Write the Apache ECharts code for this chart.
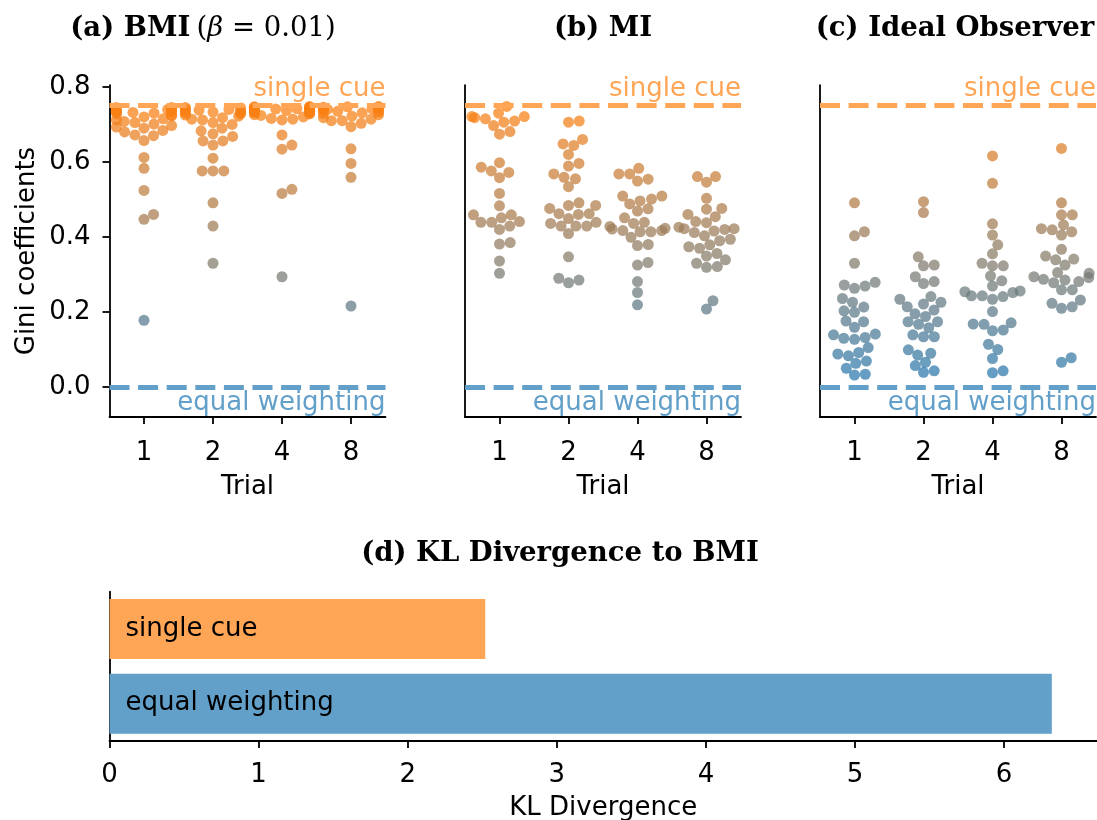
<!DOCTYPE html>
<html>
<head>
<meta charset="utf-8">
<script src="https://cdn.jsdelivr.net/npm/echarts@6/dist/echarts.min.js"></script>
<style>
  html, body { margin: 0; padding: 0; background: #fff; }
  #chart { width: 1097px; height: 820px; }
</style>
</head>
<body>
<div id="chart"></div>
<script>
// ---- data ----------------------------------------------------------------
const trials = ['1', '2', '4', '8'];
const giniTicks = [0.0, 0.2, 0.4, 0.6, 0.8];
const klTicks = [0, 1, 2, 3, 4, 5, 6];

// Gini coefficients of cue weights per trial (one inner array per trial)
const bmiGini = [
  [0.745, 0.745, 0.743, 0.740, 0.738, 0.737, 0.735, 0.734, 0.733, 0.732, 0.730, 0.728, 0.725, 0.723, 0.720, 0.715, 0.712, 0.708, 0.705, 0.701, 0.697, 0.693, 0.690, 0.684, 0.680, 0.672, 0.670, 0.657, 0.612, 0.583, 0.524, 0.460, 0.447, 0.178],
  [0.745, 0.744, 0.742, 0.740, 0.738, 0.736, 0.735, 0.733, 0.731, 0.730, 0.728, 0.725, 0.722, 0.718, 0.714, 0.712, 0.705, 0.700, 0.690, 0.683, 0.675, 0.668, 0.656, 0.656, 0.645, 0.610, 0.576, 0.576, 0.576, 0.491, 0.429, 0.330],
  [0.748, 0.747, 0.746, 0.745, 0.745, 0.744, 0.743, 0.742, 0.741, 0.740, 0.739, 0.738, 0.737, 0.736, 0.735, 0.734, 0.733, 0.732, 0.730, 0.728, 0.726, 0.724, 0.720, 0.716, 0.714, 0.712, 0.672, 0.645, 0.634, 0.527, 0.516, 0.294],
  [0.748, 0.747, 0.746, 0.745, 0.744, 0.743, 0.742, 0.741, 0.740, 0.738, 0.737, 0.735, 0.733, 0.731, 0.729, 0.726, 0.722, 0.718, 0.714, 0.710, 0.710, 0.703, 0.694, 0.635, 0.596, 0.559, 0.216]
];
const miGini = [
  [0.748, 0.730, 0.721, 0.721, 0.718, 0.715, 0.709, 0.706, 0.697, 0.681, 0.674, 0.598, 0.586, 0.576, 0.572, 0.558, 0.516, 0.483, 0.459, 0.459, 0.451, 0.441, 0.439, 0.439, 0.429, 0.420, 0.385, 0.381, 0.336, 0.303],
  [0.709, 0.706, 0.660, 0.648, 0.644, 0.620, 0.596, 0.589, 0.568, 0.559, 0.555, 0.534, 0.491, 0.484, 0.484, 0.476, 0.462, 0.462, 0.460, 0.449, 0.439, 0.436, 0.429, 0.429, 0.429, 0.409, 0.347, 0.290, 0.285, 0.278],
  [0.583, 0.568, 0.568, 0.554, 0.549, 0.509, 0.509, 0.501, 0.496, 0.488, 0.475, 0.469, 0.451, 0.439, 0.436, 0.428, 0.423, 0.421, 0.417, 0.417, 0.414, 0.414, 0.399, 0.380, 0.377, 0.332, 0.325, 0.281, 0.252, 0.219],
  [0.561, 0.561, 0.546, 0.503, 0.476, 0.474, 0.460, 0.454, 0.441, 0.438, 0.426, 0.422, 0.422, 0.420, 0.416, 0.412, 0.403, 0.394, 0.390, 0.379, 0.374, 0.370, 0.356, 0.349, 0.339, 0.330, 0.321, 0.319, 0.230, 0.208]
];
const idealGini = [
  [0.491, 0.414, 0.403, 0.330, 0.279, 0.272, 0.269, 0.263, 0.236, 0.226, 0.213, 0.203, 0.199, 0.176, 0.174, 0.159, 0.141, 0.139, 0.132, 0.130, 0.127, 0.105, 0.092, 0.088, 0.083, 0.069, 0.063, 0.050, 0.034, 0.032],
  [0.494, 0.465, 0.347, 0.325, 0.323, 0.294, 0.281, 0.276, 0.241, 0.234, 0.226, 0.221, 0.214, 0.205, 0.195, 0.188, 0.174, 0.174, 0.167, 0.158, 0.139, 0.134, 0.134, 0.099, 0.090, 0.085, 0.066, 0.057, 0.043, 0.039],
  [0.616, 0.543, 0.435, 0.405, 0.379, 0.355, 0.330, 0.323, 0.323, 0.296, 0.283, 0.269, 0.256, 0.254, 0.252, 0.243, 0.243, 0.241, 0.234, 0.201, 0.171, 0.168, 0.167, 0.152, 0.150, 0.114, 0.100, 0.076, 0.043, 0.038],
  [0.636, 0.491, 0.459, 0.459, 0.432, 0.422, 0.419, 0.414, 0.405, 0.367, 0.349, 0.341, 0.339, 0.325, 0.305, 0.303, 0.294, 0.292, 0.287, 0.285, 0.281, 0.278, 0.259, 0.259, 0.232, 0.223, 0.214, 0.210, 0.078, 0.066]
];

// KL divergence of each heuristic to BMI
const klCategories = ['single cue', 'equal weighting'];
const klValues = [2.52, 6.32];

// reference levels of the Gini coefficient
const singleCueGini = 0.75;
const equalWeightGini = 0.0;

// ---- style & layout -------------------------------------------------------
const TAB_BLUE = [31, 119, 180];
const TAB_ORANGE = [255, 127, 14];
const ORANGE_SOFT = '#ffa556';
const BLUE_SOFT = '#62a0ca';
const FONT = 'DejaVu Sans';
const FS = 26;
const TITLE_FS = 27.5;

const Y_MIN = -0.08, Y_MAX = 0.805;
const X_MIN = -0.5, X_MAX = 3.5;
const PANEL_W = 276, PANEL_H = 331.9, PANEL_TOP = 85.1;
const panelLefts = [109.5, 465, 820];
const MARKER_SIZE = 11;
const SWARM_GAP = 10.3;       // centre-to-centre spacing used by the swarm
const SWARM_HALF_WIDTH = 0.4; // gutter, in category units

function pointColor(v) {
  const t = Math.max(0, Math.min(1, v / singleCueGini));
  const c = TAB_BLUE.map((b, i) => Math.round(b + (TAB_ORANGE[i] - b) * t));
  return 'rgb(' + c.join(',') + ')';
}

// beeswarm layout: sort by value, put each point at the free position
// closest to the category centre, then clamp overflow to the gutters
function swarmOffsets(values, pxPerY, pxPerX) {
  const order = values.map((v, i) => i).sort((a, b) => values[a] - values[b]);
  const d = SWARM_GAP;
  const placed = [];
  const out = new Array(values.length);
  for (const idx of order) {
    const y = values[idx] * pxPerY;
    const neighbors = placed.filter(p => Math.abs(p.y - y) < d);
    const cands = [0];
    for (const n of neighbors) {
      const dy = y - n.y;
      const dx = Math.sqrt(Math.max(d * d - dy * dy, 0)) * 1.05;
      cands.push(n.x + dx, n.x - dx);
    }
    cands.sort((a, b) => Math.abs(a) - Math.abs(b));
    let chosen = cands[cands.length - 1];
    for (const c of cands) {
      if (neighbors.every(n => Math.hypot(n.x - c, n.y - y) >= d - 1e-6)) { chosen = c; break; }
    }
    placed.push({ x: chosen, y: y });
    const off = chosen / pxPerX;
    out[idx] = Math.max(-SWARM_HALF_WIDTH, Math.min(SWARM_HALF_WIDTH, off));
  }
  return out;
}

const pxPerY = PANEL_H / (Y_MAX - Y_MIN);
const pxPerX = PANEL_W / (X_MAX - X_MIN);

function swarmData(groups) {
  const data = [];
  groups.forEach((vals, ti) => {
    const offs = swarmOffsets(vals, pxPerY, pxPerX);
    vals.forEach((v, i) => data.push([ti + offs[i], v]));
  });
  return data;
}

const panels = [bmiGini, miGini, idealGini];
const titles = [
  { text: '{b|(a) BMI} {n|(}{i|β}{n| = 0.01)}', x: 198 },
  { text: '{b|(b) MI}', x: 598 },
  { text: '{b|(c) Ideal Observer}', x: 950 }
];
const titleRich = {
  b: { fontFamily: 'DejaVu Serif', fontWeight: 'bold', fontSize: TITLE_FS, color: '#000' },
  n: { fontFamily: 'DejaVu Serif', fontWeight: 'normal', fontSize: TITLE_FS, color: '#000' },
  i: { fontFamily: 'DejaVu Serif', fontStyle: 'italic', fontWeight: 'normal', fontSize: TITLE_FS, color: '#000' }
};

const axisLineStyle = { color: '#000', width: 1.8 };

const grids = [], xAxes = [], yAxes = [], series = [];
panels.forEach((groups, p) => {
  grids.push({ left: panelLefts[p], top: PANEL_TOP, width: PANEL_W, height: PANEL_H, outerBoundsMode: 'none', containLabel: false });
  xAxes.push({
    type: 'value', gridIndex: p, min: X_MIN, max: X_MAX,
    axisLine: { show: true, onZero: false, lineStyle: axisLineStyle },
    axisTick: { show: true, customValues: [0, 1, 2, 3], length: 7, lineStyle: axisLineStyle },
    axisLabel: { customValues: [0, 1, 2, 3], formatter: v => trials[Math.round(v)], fontSize: FS, fontFamily: FONT, color: '#000', margin: 23 },
    splitLine: { show: false },
    name: 'Trial', nameLocation: 'middle', nameGap: 57,
    nameTextStyle: { fontSize: FS, fontFamily: FONT, color: '#000' }
  });
  const first = p === 0;
  yAxes.push({
    type: 'value', gridIndex: p, min: Y_MIN, max: Y_MAX,
    axisLine: { show: true, onZero: false, lineStyle: axisLineStyle },
    axisTick: { show: first, customValues: giniTicks, length: 7, lineStyle: axisLineStyle },
    axisLabel: { show: first, customValues: giniTicks, formatter: v => v.toFixed(1), fontSize: FS, fontFamily: FONT, color: '#000', margin: 19 },
    splitLine: { show: false },
    name: first ? 'Gini coefficients' : '', nameLocation: 'middle', nameGap: 69,
    nameTextStyle: { fontSize: FS, fontFamily: FONT, color: '#000' }
  });
  series.push({
    type: 'scatter', xAxisIndex: p, yAxisIndex: p,
    symbolSize: MARKER_SIZE,
    data: swarmData(groups),
    itemStyle: { color: params => pointColor(params.value[1]), opacity: 0.72 },
    silent: true,
    markLine: {
      silent: true, symbol: 'none', animation: false,
      data: [
        {
          yAxis: singleCueGini,
          lineStyle: { color: ORANGE_SOFT, type: [20, 8.6], width: 5 },
          label: { show: true, position: 'insideEndTop', formatter: 'single cue', color: ORANGE_SOFT, fontSize: FS, fontFamily: FONT, distance: [0, 3] }
        },
        {
          yAxis: equalWeightGini,
          lineStyle: { color: BLUE_SOFT, type: [20, 8.6], width: 5 },
          label: { show: true, position: 'insideEndBottom', formatter: 'equal weighting', color: BLUE_SOFT, fontSize: FS, fontFamily: FONT, distance: [0, 3] }
        }
      ]
    }
  });
});

// KL divergence bar panel
grids.push({ left: 109.5, top: 591.7, width: 987.5, height: 149.3, outerBoundsMode: 'none', containLabel: false });
xAxes.push({
  type: 'value', gridIndex: 3, min: 0, max: 6.623,
  axisLine: { show: true, onZero: false, lineStyle: axisLineStyle },
  axisTick: { show: true, customValues: klTicks, length: 7, lineStyle: axisLineStyle },
  axisLabel: { customValues: klTicks, fontSize: FS, fontFamily: FONT, color: '#000', margin: 21 },
  splitLine: { show: false },
  name: 'KL Divergence', nameLocation: 'middle', nameGap: 54,
  nameTextStyle: { fontSize: FS, fontFamily: FONT, color: '#000' }
});
yAxes.push({
  type: 'category', gridIndex: 3, data: klCategories, inverse: true,
  axisLine: { show: true, onZero: false, lineStyle: axisLineStyle },
  axisTick: { show: false }, axisLabel: { show: false }, splitLine: { show: false }
});
series.push({
  type: 'bar', xAxisIndex: 3, yAxisIndex: 3, barWidth: 60, silent: true,
  data: klValues.map((v, i) => ({ value: v, itemStyle: { color: i === 0 ? ORANGE_SOFT : BLUE_SOFT } })),
  label: { show: true, position: 'insideLeft', formatter: '{b}', color: '#000', fontSize: FS, fontFamily: FONT, distance: 16 }
});

const titleList = titles.map(t => ({
  text: t.text, left: t.x, top: 10, textAlign: 'center',
  textStyle: { rich: titleRich }
}));
titleList.push({
  text: '{b|(d) KL Divergence to BMI}', left: 555, top: 535, textAlign: 'center',
  textStyle: { rich: titleRich }
});

const chart = echarts.init(document.getElementById('chart'), null, { renderer: 'canvas' });
chart.setOption({
  animation: false,
  backgroundColor: '#fff',
  textStyle: { fontFamily: FONT },
  title: titleList,
  grid: grids,
  xAxis: xAxes,
  yAxis: yAxes,
  series: series
});
</script>
</body>
</html>
